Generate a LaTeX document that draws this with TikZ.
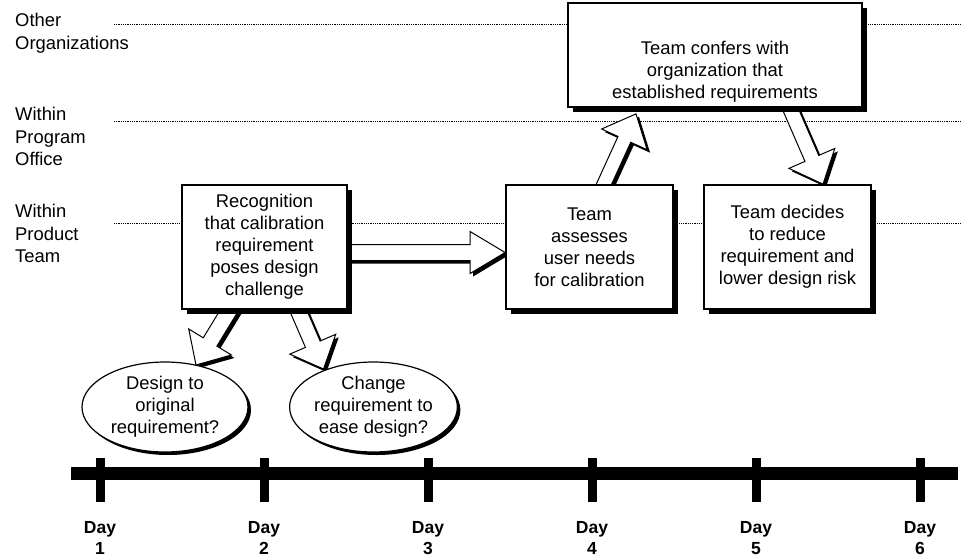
\documentclass[tikz,border=0pt]{standalone}
\usepackage{fontspec}
\setmainfont{Liberation Sans}
\usetikzlibrary{calc,shapes.geometric,shadows}
\pgfdeclarelayer{back}
\pgfdeclarelayer{mid}
\pgfsetlayers{back,mid,main}
\newcommand\blockarrow[6]{%
  \coordinate (#6s) at (#1);
  \coordinate (#6t) at (#2);
  \coordinate (#6h) at ($(#6t)!#5!(#6s)$);
  \coordinate (#6p1) at ($(#6s)!#3!90:(#6t)$);
  \coordinate (#6p2) at ($(#6h)!#3!90:(#6t)$);
  \coordinate (#6p3) at ($(#6h)!#4!90:(#6t)$);
  \coordinate (#6p5) at ($(#6h)!#4!-90:(#6t)$);
  \coordinate (#6p6) at ($(#6h)!#3!-90:(#6t)$);
  \coordinate (#6p7) at ($(#6s)!#3!-90:(#6t)$);
  \fill[black] ([shift={(3,3)}]#6p1) -- ([shift={(3,3)}]#6p2) -- ([shift={(3,3)}]#6p3) -- ([shift={(3,3)}]#6t) -- ([shift={(3,3)}]#6p5) -- ([shift={(3,3)}]#6p6) -- ([shift={(3,3)}]#6p7) -- cycle;
  \filldraw[fill=white,draw=black,line width=1pt,line join=miter] (#6p1) -- (#6p2) -- (#6p3) -- (#6t) -- (#6p5) -- (#6p6) -- (#6p7) -- cycle;
}
\begin{document}
\begin{tikzpicture}[x=1pt,y=-1pt,
  txt/.style={font=\fontsize{18.4}{22}\selectfont, align=center, inner sep=0pt},
  lbl/.style={font=\fontsize{18.4}{22.5}\selectfont, align=left, inner sep=0pt, anchor=north west},
  box/.style={draw=black, line width=1.8pt, fill=white, inner sep=0pt, align=center,
    font=\fontsize{18.4}{22}\selectfont,
    general shadow={fill=black, shadow xshift=4.5pt, shadow yshift=-4.5pt}},
  oval/.style={ellipse, draw=black, line width=1.2pt, fill=white, inner sep=0pt,
    minimum width=166pt, minimum height=90pt, align=center,
    font=\fontsize{18.4}{22}\selectfont,
    general shadow={fill=black, shadow xshift=3pt, shadow yshift=-3pt}},
  dayl/.style={font=\bfseries\fontsize{17.5}{21}\selectfont, align=center, inner sep=0pt, anchor=north},
  guide/.style={line width=0.9pt, dash pattern=on 0.9pt off 0.9pt},
]
\useasboundingbox (0,0) rectangle (961,557);

% lane labels
\node[lbl] (l1) at (15,13.3) {Other\\Organizations};
\node[lbl] (l2) at (15,107) {Within\\Program\\Office};
\node[lbl] (l3) at (15,204) {Within\\Product\\Team};

% boxes
\node[box, minimum width=165pt, minimum height=124pt] (b1) at (264.5,247)
  {Recognition\\that calibration\\requirement\\poses design\\challenge};
\node[box, minimum width=167pt, minimum height=124pt] (b2) at (589.5,247)
  {Team\\assesses\\user needs\\for calibration};
\node[box, minimum width=167pt, minimum height=124pt] (b3) at (787.5,247)
  {Team decides\\to reduce\\requirement and\\lower design risk};
\node[box, minimum width=294pt, minimum height=104pt] (b4) at (715,55) {};
\node[txt] (b4t) at (715,72) {Team confers with\\organization that\\established requirements};

% ellipses
\node[oval] (e1) at (165,407) {Design to\\original\\requirement?};
\node[oval] (e2) at (373.5,407) {Change\\requirement to\\ease design?};

% dotted lane lines
\begin{pgfonlayer}{back}
\coordinate (g1) at (114,24);
\coordinate (g2) at (114,121);
\coordinate (g3) at (114,223);
\draw[guide] (g1) -- (961,24);
\draw[guide] (g2) -- (961,121);
\draw[guide] (g3) -- (961,223);
\end{pgfonlayer}

% block arrows
\begin{pgfonlayer}{mid}
\blockarrow{$(b1.east)+(-10,5.5)$}{$(b2.west)+(0,5.5)$}{8pt}{21pt}{35pt}{ah}
\blockarrow{$(b2.north)+(10.3,9.1)$}{$(b4.south)+(-79,6)$}{7pt}{25pt}{28pt}{au}
\blockarrow{$(b4.south)+(71,-9)$}{$(b3.north)+(35.5,0)$}{7.5pt}{25pt}{28pt}{ad}
\blockarrow{$(b1.south)+(-30,-8)$}{$(e1.center)+(31,-42)$}{8pt}{25pt}{27pt}{al}
\blockarrow{$(b1.south)+(30,-8)$}{$(e2.center)+(-50,-38)$}{8pt}{25pt}{27pt}{ar}
\end{pgfonlayer}

% timeline
\coordinate (tl) at (71,473);
\coordinate (tr) at (958,473);
\draw[line width=13pt] (tl) -- (tr);
\foreach \i/\x in {1/100,2/264,3/428,4/592,5/756,6/920}{
  \draw[line width=9pt] (\x,458) -- (\x,502);
  \node[dayl] (d\i) at (\x,521.5) {Day\\\i};
}
\end{tikzpicture}
\end{document}
